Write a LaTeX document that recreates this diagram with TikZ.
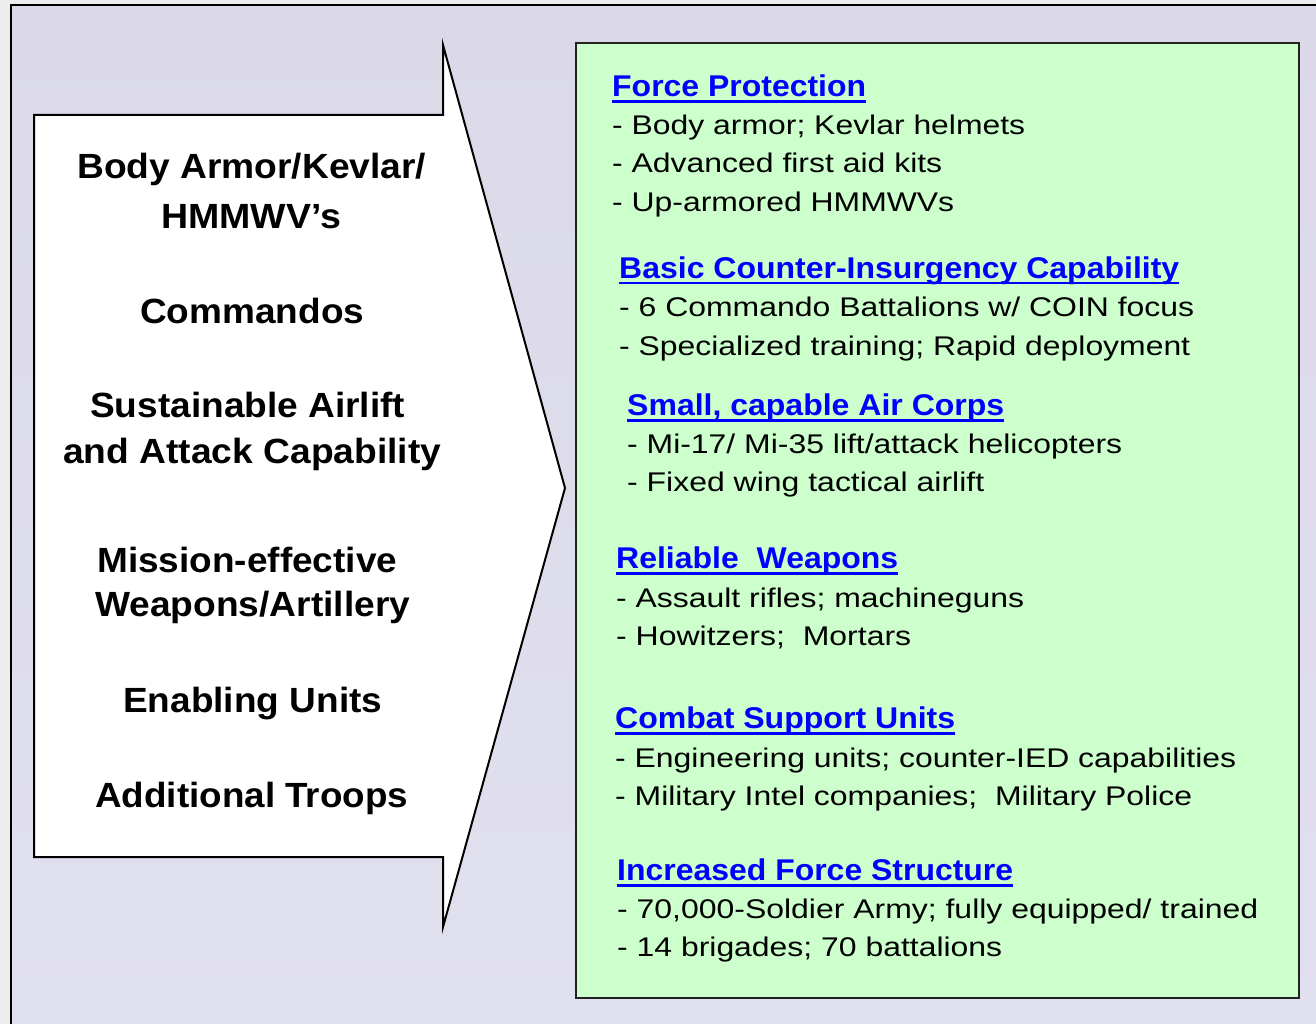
\documentclass[tikz,border=0pt]{standalone}
\usepackage{fontspec}
\setmainfont{Liberation Sans}
\usepackage{graphicx}
\definecolor{pagegray}{RGB}{237,237,237}
\definecolor{lavtop}{RGB}{219,217,232}
\definecolor{lavbot}{RGB}{225,224,239}
\definecolor{mint}{RGB}{204,255,204}
\definecolor{hblue}{RGB}{0,0,255}
\definecolor{boxedge}{RGB}{34,34,34}
\newcommand\fitto[2]{\resizebox{#1pt}{\height}{#2}}
\newsavebox\ulbox
\newcommand\ulbar[1]{\sbox\ulbox{#1}\rlap{\rule[-6pt]{\wd\ulbox}{2.6pt}}\usebox\ulbox}
\tikzset{
  lefttxt/.style={anchor=base west, inner sep=0pt, font=\fontsize{35}{42}\selectfont\bfseries},
  bodytxt/.style={anchor=base west, inner sep=0pt, font=\fontsize{27}{32}\selectfont},
  headtxt/.style={anchor=base west, inner sep=0pt, text=hblue, font=\fontsize{30}{36}\selectfont\bfseries},
  frameline/.style={draw=black, line width=2.4pt},
  arrowshape/.style={draw=black, line width=2pt, fill=white, line join=miter},
  greenbox/.style={draw=boxedge, line width=2pt, fill=mint},
}
\begin{document}
\begin{tikzpicture}[x=1pt,y=-1pt]
\useasboundingbox (0,0) rectangle (1316,1024);
\clip (0,0) rectangle (1316,1024);
\fill[pagegray] (0,0) rectangle (1316,1024);
\path[frameline, top color=lavtop, bottom color=lavbot] (11,5) rectangle (1340,1050);
% big arrow
\path[arrowshape] (34,115) -- (443,115) -- (443,45) -- (565,488) -- (443,927) -- (443,857) -- (34,857) -- cycle;
% green box
\path[greenbox] (576,43) rectangle (1299,998);
% left labels
\node[lefttxt] (l1) at (77,179) {\fitto{349}{Body Armor/Kevlar/}};
\node[lefttxt] (l2) at (161,229) {\fitto{180}{HMMWV’s}};
\node[lefttxt] (l3) at (140,323) {\fitto{224}{Commandos}};
\node[lefttxt] (l4) at (90,417) {\fitto{315}{Sustainable Airlift}};
\node[lefttxt] (l5) at (63,463) {\fitto{378}{and Attack Capability}};
\node[lefttxt] (l6) at (97,572) {\fitto{300}{Mission-effective}};
\node[lefttxt] (l7) at (95,616) {\fitto{315}{Weapons/Artillery}};
\node[lefttxt] (l8) at (123,712) {\fitto{259}{Enabling Units}};
\node[lefttxt] (l9) at (95,807) {\fitto{313}{Additional Troops}};
% right column
\node[headtxt] (h1) at (612,97) {\fitto{254}{\ulbar{Force Protection}}};
\node[bodytxt] (b11) at (612,134.5) {\fitto{413}{- Body armor; Kevlar helmets}};
\node[bodytxt] (b12) at (612,172.5) {\fitto{330}{- Advanced first aid kits}};
\node[bodytxt] (b13) at (612,211.5) {\fitto{342}{- Up-armored HMMWVs}};
\node[headtxt] (h2) at (619,278.5) {\fitto{560}{\ulbar{Basic Counter-Insurgency Capability}}};
\node[bodytxt] (b21) at (619,316.5) {\fitto{575}{- 6 Commando Battalions w/ COIN focus}};
\node[bodytxt] (b22) at (619,355.5) {\fitto{571}{- Specialized training; Rapid deployment}};
\node[headtxt] (h3) at (627,415.5) {\fitto{377}{\ulbar{Small, capable Air Corps}}};
\node[bodytxt] (b31) at (627,453.5) {\fitto{495}{- Mi-17/ Mi-35 lift/attack helicopters}};
\node[bodytxt] (b32) at (627,491.5) {\fitto{357}{- Fixed wing tactical airlift}};
\node[headtxt] (h4) at (616,568.5) {\fitto{282}{\ulbar{Reliable\ \ Weapons}}};
\node[bodytxt] (b41) at (616,607.5) {\fitto{408}{- Assault rifles; machineguns}};
\node[bodytxt] (b42) at (616,645.5) {\fitto{295}{- Howitzers;\ \ Mortars}};
\node[headtxt] (h5) at (615,728.5) {\fitto{340}{\ulbar{Combat Support Units}}};
\node[bodytxt] (b51) at (615,767.5) {\fitto{621}{- Engineering units; counter-IED capabilities}};
\node[bodytxt] (b52) at (615,805.5) {\fitto{577}{- Military Intel companies;\ \ Military Police}};
\node[headtxt] (h6) at (617,880.5) {\fitto{396}{\ulbar{Increased Force Structure}}};
\node[bodytxt] (b61) at (617,918.5) {\fitto{641}{- 70,000-Soldier Army; fully equipped/ trained}};
\node[bodytxt] (b62) at (617,956.5) {\fitto{385}{- 14 brigades; 70 battalions}};
\end{tikzpicture}
\end{document}
